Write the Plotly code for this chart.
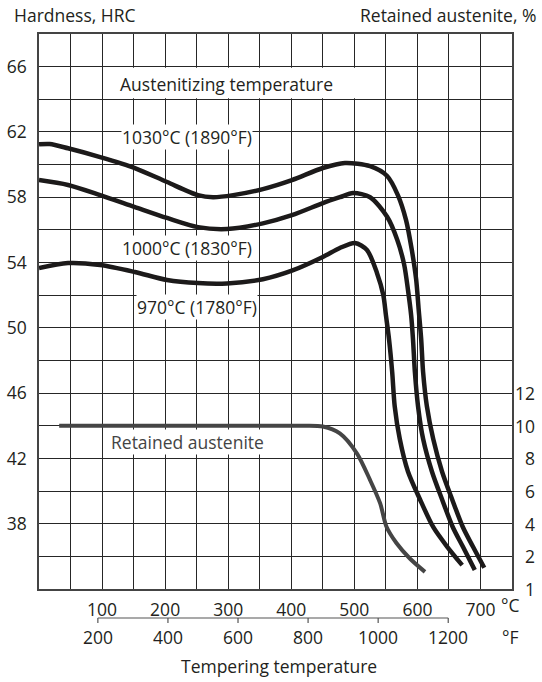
import plotly.graph_objects as go

# ---------------- data ----------------
# Tempering temperature (deg C) and hardness (HRC) for each austenitizing temperature
temp_1030 = [0, 17, 46, 97, 152, 203, 252, 276, 308, 355, 401, 450, 485, 525, 552, 569, 582,
             591, 598, 602, 606, 609, 615, 625, 639, 655, 672, 688, 706]
hrc_1030 = [61.24, 61.26, 61.0, 60.46, 59.79, 58.93, 58.13, 58.0, 58.13, 58.5, 59.05, 59.79, 60.1,
            59.9, 59.3, 58.13, 56.6, 54.8, 52.97, 51.13, 49.3, 47.3, 45.2, 43.2, 41.2, 39.5, 37.8,
            36.6, 35.3]

temp_1000 = [0, 46, 97, 152, 203, 252, 298, 355, 401, 450, 477, 498, 525, 552, 568, 579, 585,
             590, 593, 596, 601, 609, 623, 639, 656, 672, 691]
hrc_1000 = [59.05, 58.75, 58.13, 57.4, 56.73, 56.17, 56.05, 56.4, 56.9, 57.64, 58.0, 58.26, 58.0,
            56.8, 55.4, 53.87, 52.34, 50.8, 49.3, 47.3, 45.2, 43.2, 41.2, 39.5, 37.8, 36.6, 35.16]

temp_970 = [0, 46, 97, 152, 203, 252, 298, 355, 401, 450, 477, 501, 520, 536, 546, 550, 555, 560,
            564, 572, 585, 604, 625, 647, 671]
hrc_970 = [53.66, 53.97, 53.85, 53.42, 52.93, 52.74, 52.72, 52.98, 53.5, 54.34, 54.89, 55.2, 54.77,
           53.35, 52.0, 50.8, 49.3, 47.3, 45.2, 43.2, 41.2, 39.5, 37.8, 36.6, 35.46]

# Retained austenite (%) vs tempering temperature (deg C)
temp_ra = [32, 150, 300, 420, 450, 477, 504, 525, 541, 551, 567, 588, 612]
ra_pct = [10, 10, 10, 10, 9.95, 9.53, 8.31, 6.67, 5.24, 3.81, 2.8, 1.87, 1.05]

# Axis ticks
x_grid = list(range(0, 751, 50))
x_tick_labels = {100: "100", 200: "200", 300: "300", 400: "400", 500: "500", 600: "600", 700: "700"}
y_grid = list(range(34, 69, 2))
y_tick_labels = {38: "38", 42: "42", 46: "46", 50: "50", 54: "54", 58: "58", 62: "62", 66: "66"}
ra_tick_vals = [0, 2, 4, 6, 8, 10, 12]
ra_tick_text = ["1", "2", "4", "6", "8", "10", "12"]
f_ticks = [200, 400, 600, 800, 1000, 1200]

curve_labels = [
    ("1030°C (1890°F)", 235, 61.72),
    ("1000°C (1830°F)", 235, 54.87),
    ("970°C (1780°F)", 250, 51.3),
]

# ---------------- figure ----------------
W, H = 542, 682
ML, MR, MT, MB = 39, 30, 34, 93
PW, PH = W - ML - MR, H - MT - MB
FONT = "Open Sans"
FS = 17.5
TXT = "#231f20"
GRID = "#262626"


def xp(px):
    return (px - ML) / PW


def yp(py):
    return (H - MB - py) / PH


def f2c(f):
    return (f - 32) / 1.8


fig = go.Figure()

for t, h in [(temp_1030, hrc_1030), (temp_1000, hrc_1000), (temp_970, hrc_970)]:
    fig.add_trace(go.Scatter(x=t, y=h, mode="lines",
                             line=dict(color="#1c1a1a", width=4.5, shape="spline", smoothing=0.8),
                             hoverinfo="skip"))

fig.add_trace(go.Scatter(x=temp_ra, y=ra_pct, yaxis="y2", mode="lines",
                         line=dict(color="#454545", width=4, shape="spline", smoothing=0.8),
                         hoverinfo="skip"))

annotations = []
for text, x, y in curve_labels:
    annotations.append(dict(x=x, y=y, xref="x", yref="y", text=text, showarrow=False,
                            bgcolor="white", borderpad=0, font=dict(size=FS, color=TXT)))
annotations.append(dict(x=298, y=64.95, xref="x", yref="y", text="Austenitizing temperature",
                        showarrow=False, font=dict(size=FS, color=TXT)))
annotations.append(dict(x=236, y=9.0, xref="x", yref="y2", text="Retained austenite",
                        showarrow=False, bgcolor="white", borderpad=0,
                        font=dict(size=FS, color="#444")))

for v, t in zip(ra_tick_vals, ra_tick_text):
    annotations.append(dict(x=xp(537), y=v, xref="paper", yref="y2", text=t, showarrow=False,
                            xanchor="right", yanchor="middle", font=dict(size=FS, color=TXT)))

annotations += [
    dict(x=xp(12), y=yp(15.5), xref="paper", yref="paper", text="Hardness, HRC", showarrow=False,
         xanchor="left", yanchor="middle", font=dict(size=FS, color=TXT)),
    dict(x=xp(538), y=yp(15.5), xref="paper", yref="paper", text="Retained austenite, %",
         showarrow=False, xanchor="right", yanchor="middle", font=dict(size=FS, color=TXT)),
    dict(x=xp(510), y=yp(605), xref="paper", yref="paper", text="°C", showarrow=False,
         xanchor="center", yanchor="middle", font=dict(size=FS, color=TXT)),
    dict(x=xp(510), y=yp(637), xref="paper", yref="paper", text="°F", showarrow=False,
         xanchor="center", yanchor="middle", font=dict(size=FS, color=TXT)),
    dict(x=xp(279), y=yp(666), xref="paper", yref="paper", text="Tempering temperature",
         showarrow=False, xanchor="center", yanchor="middle", font=dict(size=FS, color=TXT)),
]
for f in f_ticks:
    annotations.append(dict(x=f2c(f), y=yp(637), xref="x", yref="paper", text=str(f),
                            showarrow=False, xanchor="center", yanchor="middle",
                            font=dict(size=FS, color=TXT)))

shapes = [
    dict(type="rect", xref="x", yref="y", x0=101.5, x1=548.5, y0=64.07, y1=65.93,
         fillcolor="white", line=dict(width=0), layer="between"),
    dict(type="line", xref="x", yref="paper", x0=f2c(f_ticks[0]), x1=f2c(f_ticks[-1]),
         y0=yp(618), y1=yp(618), line=dict(color="#555", width=1.2)),
]
for f in f_ticks:
    shapes.append(dict(type="line", xref="x", yref="paper", x0=f2c(f), x1=f2c(f),
                       y0=yp(618), y1=yp(623), line=dict(color="#555", width=1.2)))

fig.update_layout(
    width=W, height=H,
    margin=dict(l=ML, r=MR, t=MT, b=MB, autoexpand=False),
    paper_bgcolor="white", plot_bgcolor="white",
    showlegend=False,
    font=dict(family=FONT, size=FS, color=TXT),
    xaxis=dict(range=[0, 750], tickvals=x_grid, automargin=False,
               ticktext=[x_tick_labels.get(v, "") for v in x_grid],
               showgrid=True, gridcolor=GRID, gridwidth=1.2, zeroline=False,
               showline=True, linecolor="#444", linewidth=1.5, mirror=True,
               ticks="", ticklabelstandoff=4, tickfont=dict(size=FS, color=TXT)),
    yaxis=dict(range=[34, 68], tickvals=y_grid, automargin=False,
               ticktext=[y_tick_labels.get(v, "") for v in y_grid],
               showgrid=True, gridcolor=GRID, gridwidth=1.2, zeroline=False,
               showline=True, linecolor="#444", linewidth=1.5, mirror=True,
               ticks="", ticklabelstandoff=7, tickfont=dict(size=FS, color=TXT)),
    yaxis2=dict(range=[0, 34], overlaying="y", side="right", showgrid=False, automargin=False,
                zeroline=False, showticklabels=False, showline=False, ticks=""),
    annotations=annotations,
    shapes=shapes,
)

fig.write_html(
    "out.html",
    config={"displayModeBar": False},
    post_script="document.body.style.margin='0';document.body.style.overflow='hidden';",
)
